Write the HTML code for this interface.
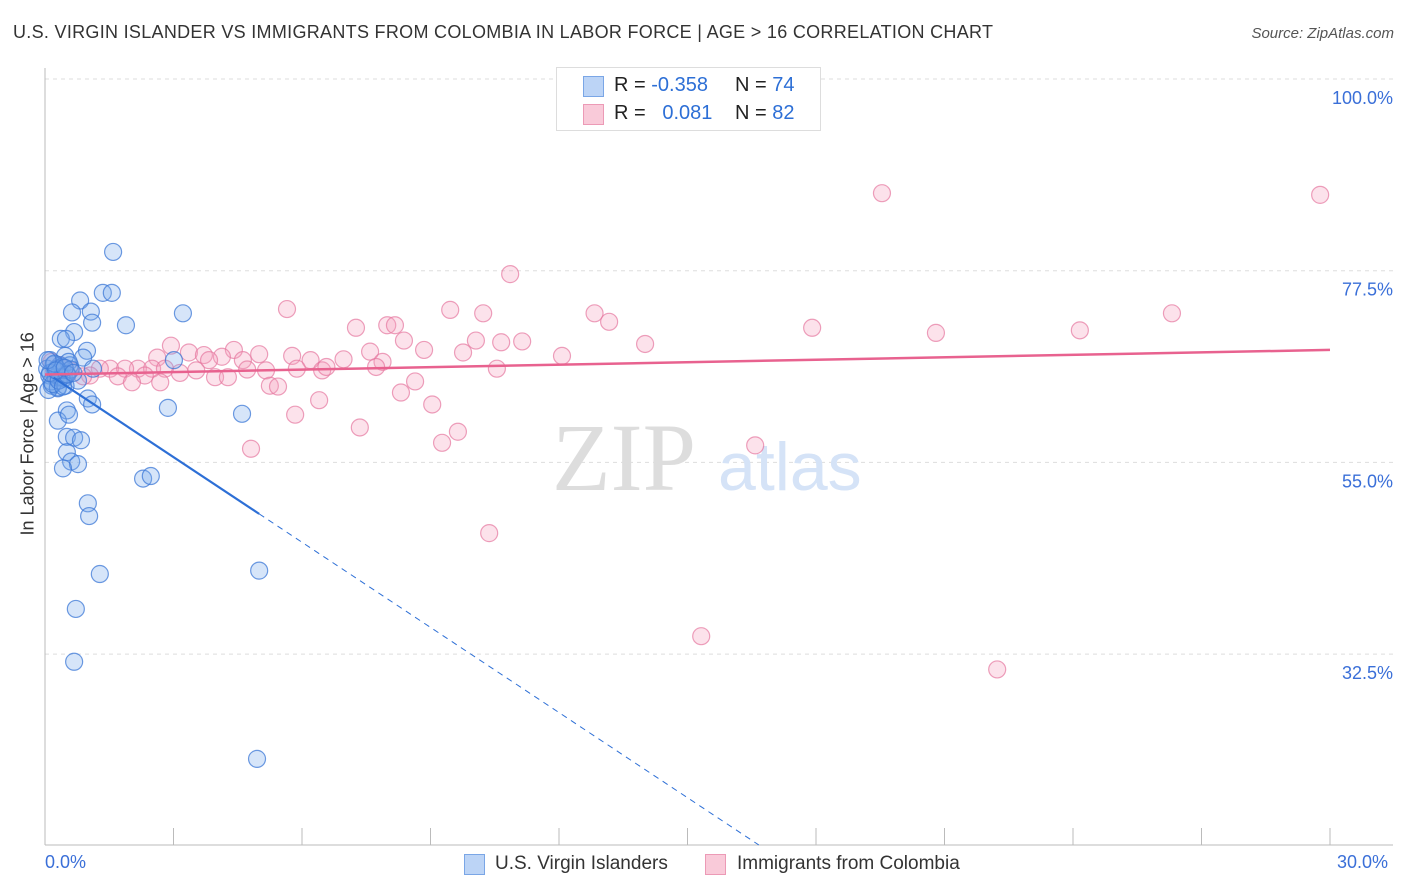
<!DOCTYPE html>
<html><head><meta charset="utf-8"><style>
body{margin:0;background:#fff;font-family:"Liberation Sans",sans-serif}
#wrap{position:relative;width:1406px;height:892px;overflow:hidden}
.t{position:absolute;white-space:nowrap}
</style></head><body>
<div id="wrap">
<div class="t" style="left:13px;top:22px;font-size:18px;letter-spacing:0.3px;color:#333">U.S. VIRGIN ISLANDER VS IMMIGRANTS FROM COLOMBIA IN LABOR FORCE | AGE &gt; 16 CORRELATION CHART</div>
<div class="t" style="right:12px;top:25px;font-size:15px;color:#555;font-style:italic">Source: ZipAtlas.com</div>
<svg id="svg" width="1406" height="892" style="position:absolute;left:0;top:0"></svg>
</div>
<script>
const xTicks=[0,3,6,9,12,15,18,21,24,27,30];
const yTicks=[32.5,55,77.5,100];
const yTickLabels=["32.5%","55.0%","77.5%","100.0%"];
const blueX=[1.59,1.35,1.56,0.82,3.22,0.63,1.07,1.10,1.89,0.68,0.37,0.49,0.98,0.47,3.01,0.89,0.12,0.35,0.23,0.58,1.12,0.42,0.16,0.77,0.30,1.00,1.10,2.87,0.51,4.60,0.30,0.56,0.51,0.68,0.84,0.51,0.61,0.77,0.42,2.29,2.47,1.00,1.03,1.28,5.00,0.72,0.68,4.95,0.05,0.10,0.15,0.20,0.25,0.30,0.35,0.40,0.45,0.50,0.55,0.60,0.08,0.18,0.28,0.38,0.48,0.12,0.22,0.32,0.42,0.52,0.06,0.26,0.46,0.66];
const blueY=[79.7,74.9,74.9,74.0,72.5,72.6,72.7,71.4,71.1,70.3,69.5,69.5,68.1,67.5,67.0,67.3,67.0,66.4,65.8,66.4,66.0,64.8,64.0,64.6,63.7,62.5,61.8,61.4,61.1,60.7,59.9,60.6,58.0,57.9,57.6,56.2,55.1,54.8,54.3,53.1,53.4,50.2,48.7,41.9,42.3,37.8,31.6,20.2,66.0,65.2,64.5,66.5,65.0,63.8,65.6,66.2,64.9,65.4,66.8,65.9,63.5,64.2,66.0,65.0,64.0,65.5,66.6,64.6,63.9,65.3,67.0,65.8,66.1,65.5];
const pinkX=[19.54,29.77,10.86,5.65,9.46,10.23,12.83,26.31,13.17,7.26,7.99,8.17,17.91,20.80,24.16,8.38,10.06,10.65,11.14,14.01,2.94,4.41,3.36,3.71,5.00,5.77,7.59,8.85,9.76,12.07,2.62,4.13,4.62,6.20,6.97,7.88,3.83,2.17,1.52,1.28,1.87,2.50,2.80,3.53,3.15,5.88,6.47,6.57,7.73,10.55,4.72,5.16,2.33,1.70,1.05,0.89,3.97,4.27,2.69,2.03,5.25,5.44,8.64,8.31,6.40,5.84,9.04,7.35,9.64,9.27,4.81,16.58,10.37,15.32,22.23,0.58,0.35,0.20,0.45,0.30,0.15,0.50];
const pinkY=[86.6,86.4,77.1,73.0,72.9,72.5,72.5,72.5,71.5,70.8,71.1,71.1,70.8,70.2,70.5,69.3,69.3,69.1,69.2,68.9,68.7,68.2,67.9,67.6,67.7,67.5,68.0,68.2,67.9,67.5,67.3,67.4,67.0,67.0,67.1,66.8,67.0,66.0,66.0,66.0,66.0,66.0,66.0,65.8,65.5,66.0,65.8,66.2,66.2,66.0,65.9,65.8,65.2,65.1,65.2,65.1,65.0,65.0,64.4,64.4,64.0,63.9,64.5,63.2,62.3,60.6,61.8,59.1,58.6,57.3,56.6,57.0,46.7,34.6,30.7,65.8,66.4,65.5,66.0,65.0,66.8,65.3];
const X0=45,X1=1330,Y100=79,PY=8.52;
const sx=v=>X0+v/30*(X1-X0);
const sy=v=>Y100+(100-v)*PY;
const svg=document.getElementById('svg');
const NS='http://www.w3.org/2000/svg';
function mk(tag,attrs,parent){const e=document.createElementNS(NS,tag);for(const k in attrs)e.setAttribute(k,attrs[k]);(parent||svg).appendChild(e);return e;}
yTicks.forEach((v,i)=>{
 const g=mk('line',{x1:45,x2:1393,y1:sy(v),y2:sy(v),stroke:'#ddd','stroke-dasharray':'4,4'});
 
 
 const t=mk('text',{x:1393,y:sy(v)+25,'text-anchor':'end','font-size':18,fill:'#3a6fd8','font-family':'Liberation Sans, sans-serif'});
 t.textContent=yTickLabels[i];
 
 
});
const ax=mk('line',{x1:45,x2:45,y1:68,y2:845,stroke:'#bbb'});


const bx=mk('line',{x1:45,x2:1393,y1:845,y2:845,stroke:'#bbb'});


xTicks.forEach(v=>{const t=mk('line',{x1:sx(v),x2:sx(v),y1:828,y2:845,stroke:'#bbb'});
 
 });
const w1=mk('text',{x:552,y:490,'font-size':96,fill:'#ddd','font-family':'Liberation Serif, serif'});w1.textContent='ZIP';


const w2=mk('text',{x:718,y:490,'font-size':68,fill:'#d5e3f7','font-family':'Liberation Sans, sans-serif'});w2.textContent='atlas';


function pts(xs,ys,fill,stroke,name){xs.forEach((x,i)=>{const c=mk('circle',{cx:sx(x),cy:sy(ys[i]),r:8.5,fill:fill,stroke:stroke,'stroke-width':1.2});
 
 });}
pts(pinkX,pinkY,'rgba(245,160,190,0.3)','rgba(230,120,160,0.7)','colombia-point');
pts(blueX,blueY,'rgba(120,170,235,0.3)','rgba(60,120,215,0.75)','virgin-islander-point');
function fit(xs,ys){const n=xs.length;let mx=0,my=0;xs.forEach((x,i)=>{mx+=x;my+=ys[i]});mx/=n;my/=n;let a=0,b=0;xs.forEach((x,i)=>{a+=(x-mx)*(ys[i]-my);b+=(x-mx)*(x-mx)});const s=a/b;return [my-s*mx,s];}
const [pb,ps]=fit(pinkX,pinkY);
const pl=mk('line',{x1:sx(0),y1:sy(pb),x2:sx(30),y2:sy(pb+ps*30),stroke:'#e8628f','stroke-width':2.5});


const [bb,bs]=fit(blueX,blueY);
const bmax=Math.max(...blueX);
const bl=mk('line',{x1:sx(0.2),y1:sy(bb+bs*0.2),x2:sx(bmax),y2:sy(bb+bs*bmax),stroke:'#2d6fd6','stroke-width':2.2});


const xEnd=bs<0?Math.min(30,(bb-(100-(845-Y100)/PY))/(-bs)):30;
const bd=mk('line',{x1:sx(bmax),y1:sy(bb+bs*bmax),x2:sx(xEnd),y2:sy(bb+bs*xEnd),stroke:'#2d6fd6','stroke-width':1,'stroke-dasharray':'6,5'});


</script>
<div class="t" style="left:-52px;top:445px;transform:rotate(-90deg);font-size:18px;color:#333;width:160px;text-align:center">In Labor Force | Age &gt; 16</div>
<div class="t" style="left:45px;top:852px;font-size:18px;color:#3a6fd8">0.0%</div>
<div class="t" style="left:1337px;top:852px;font-size:18px;color:#3a6fd8">30.0%</div>
<div style="position:absolute;left:556px;top:67px;width:263px;height:62px;border:1px solid #ddd;background:#fff;font-size:20px;color:#222">
 <div style="position:absolute;left:26px;top:8px;width:19px;height:19px;background:#bcd4f6;border:1px solid #7aa6e6"></div>
 <div class="t" style="left:57px;top:6px">R = <span style="color:#2d6fd6">-0.358</span></div>
 <div class="t" style="left:178px;top:6px">N = <span style="color:#2d6fd6">74</span></div>
 <div style="position:absolute;left:26px;top:36px;width:19px;height:19px;background:#f9cad9;border:1px solid #ec9ab6"></div>
 <div class="t" style="left:57px;top:34px">R = &nbsp;&nbsp;<span style="color:#2d6fd6">0.081</span></div>
 <div class="t" style="left:178px;top:34px">N = <span style="color:#2d6fd6">82</span></div>
</div>
<div style="position:absolute;left:464px;top:854px;height:22px;font-size:19px;color:#333">
 <div style="position:absolute;left:0;top:0;width:19px;height:19px;background:#bcd4f6;border:1px solid #7aa6e6"></div>
 <div class="t" style="left:31px;top:-1px">U.S. Virgin Islanders</div>
</div>
<div style="position:absolute;left:705px;top:854px;height:22px;font-size:19px;color:#333">
 <div style="position:absolute;left:0;top:0;width:19px;height:19px;background:#f9cad9;border:1px solid #ec9ab6"></div>
 <div class="t" style="left:32px;top:-1px">Immigrants from Colombia</div>
</div>
</body></html>
